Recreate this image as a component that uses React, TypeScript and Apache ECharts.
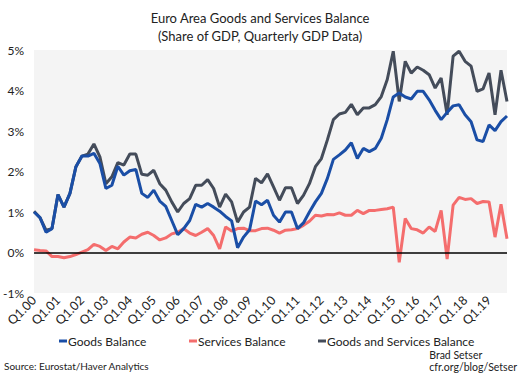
import React, { useEffect, useRef } from "react";
import * as echarts from "echarts";

const years = ["00","01","02","03","04","05","06","07","08","09","10","11","12","13","14","15","16","17","18","19"];
const quarters = ["Q1","Q2","Q3","Q4"];
const categories: string[] = [];
years.forEach((y) => quarters.forEach((q) => categories.push(`${q}.${y}`)));

const goodsBalance = [
  1.0, 0.86, 0.5, 0.59, 1.43, 1.12, 1.46, 2.12, 2.38, 2.38, 2.45, 2.2, 1.58, 1.66, 2.13, 1.91,
  2.02, 2.05, 1.46, 1.36, 1.54, 1.27, 1.14, 0.79, 0.44, 0.59, 0.79, 1.19, 1.12, 1.21, 1.12, 1.02,
  0.89, 0.78, 0.12, 0.38, 0.56, 1.27, 1.18, 1.29, 0.92, 0.75, 1.0, 1.0, 0.59, 0.73, 1.0, 1.25,
  1.46, 1.83, 2.3, 2.41, 2.53, 2.71, 2.32, 2.57, 2.49, 2.57, 2.82, 3.28, 3.84, 3.94, 3.84, 3.79,
  3.98, 3.98, 3.77, 3.51, 3.28, 3.46, 3.62, 3.65, 3.4, 3.23, 2.78, 2.74, 3.15, 3.01, 3.23, 3.37,
];
const servicesBalance = [
  0.07, 0.05, 0.04, -0.1, -0.1, -0.13, -0.1, -0.05, 0.01, 0.07, 0.2, 0.15, 0.05, 0.15, 0.09, 0.26,
  0.38, 0.36, 0.45, 0.5, 0.42, 0.31, 0.36, 0.46, 0.5, 0.59, 0.48, 0.42, 0.5, 0.59, 0.42, 0.09,
  0.63, 0.53, 0.59, 0.6, 0.54, 0.54, 0.59, 0.6, 0.55, 0.48, 0.55, 0.56, 0.59, 0.67, 0.77, 0.92,
  0.9, 0.94, 0.93, 0.98, 0.92, 0.92, 1.04, 0.96, 1.04, 1.04, 1.06, 1.08, 1.12, -0.24, 0.84, 0.59,
  0.56, 0.48, 0.63, 0.52, 1.04, -0.16, 1.17, 1.36, 1.31, 1.33, 1.21, 1.26, 1.25, 0.38, 1.19, 0.34,
];
const goodsAndServicesBalance = [
  1.02, 0.86, 0.55, 0.59, 1.43, 1.12, 1.46, 2.12, 2.38, 2.43, 2.68, 2.36, 1.7, 1.87, 2.22, 2.16,
  2.43, 2.43, 1.93, 1.91, 2.03, 1.7, 1.54, 1.25, 1.0, 1.21, 1.33, 1.66, 1.66, 1.8, 1.58, 1.12,
  1.44, 1.25, 0.75, 1.0, 1.12, 1.83, 1.72, 1.94, 1.62, 1.29, 1.6, 1.6, 1.21, 1.41, 1.7, 2.12,
  2.32, 2.78, 3.28, 3.42, 3.46, 3.66, 3.4, 3.57, 3.57, 3.65, 3.85, 4.27, 4.97, 3.73, 4.72, 4.43,
  4.58, 4.5, 4.39, 4.06, 4.31, 3.4, 4.85, 4.97, 4.72, 4.6, 3.98, 4.04, 4.43, 3.4, 4.5, 3.73,
];
const yTicks = [-1, 0, 1, 2, 3, 4, 5];
const seriesNames = ["Goods Balance", "Services Balance", "Goods and Services Balance"];

const FONT = "Lato, 'Noto Sans', sans-serif";

export default function App() {
  const ref = useRef<HTMLDivElement>(null);
  useEffect(() => {
    if (!ref.current) return;
    const chart = echarts.init(ref.current, undefined, { renderer: "svg" });
    const legendLefts = [59, 189, 318];
    chart.setOption({
      animation: false,
      textStyle: { fontFamily: FONT },
      title: {
        text: "Euro Area Goods and Services Balance\n(Share of GDP, Quarterly GDP Data)",
        left: "center",
        top: 4,
        textStyle: { fontFamily: FONT, fontSize: 13, fontWeight: "normal", color: "#222", lineHeight: 18 },
      },
      grid: {
        left: 32, right: 13, top: 50, bottom: 82,
        show: true, backgroundColor: "#f4f4f4", borderWidth: 0,
      },
      legend: seriesNames.map((name, i) => ({
        top: 335,
        left: legendLefts[i],
        padding: 0,
        itemWidth: 8,
        itemHeight: 3,
        icon: "rect",
        textStyle: { fontFamily: FONT, fontSize: 12, color: "#222", padding: [0, 0, 0, -4] },
        data: [name],
      })),
      xAxis: {
        type: "category",
        data: categories,
        boundaryGap: false,
        axisLine: { show: false },
        axisTick: { show: false },
        splitLine: { show: false },
        axisLabel: {
          interval: (idx: number) => idx % 4 === 0,
          rotate: 45,
          margin: 5,
          fontSize: 12.5,
          color: "#222",
          fontFamily: FONT,
        },
      },
      yAxis: {
        type: "value",
        min: yTicks[0],
        max: yTicks[yTicks.length - 1],
        interval: 1,
        axisLine: { show: false },
        axisTick: { show: false },
        splitLine: { show: false },
        axisLabel: {
          formatter: (v: number) => `${v}%`,
          margin: 10,
          fontSize: 12,
          color: "#222",
          fontFamily: FONT,
        },
      },
      graphic: [
        {
          type: "text",
          left: 4,
          top: 361,
          style: { text: "Source: Eurostat/Haver Analytics", fontSize: 10, fill: "#222", fontFamily: FONT },
        },
        {
          type: "text",
          right: 3,
          top: 349,
          style: { text: "Brad Setser\ncfr.org/blog/Setser", fontSize: 10.5, fill: "#222", align: "right", lineHeight: 12, fontFamily: FONT },
        },
      ],
      series: [
        {
          name: seriesNames[0],
          type: "line",
          data: goodsBalance,
          symbol: "none",
          lineStyle: { color: "#1a4ea6", width: 3 },
          itemStyle: { color: "#1a4ea6" },
          z: 3,
          markLine: {
            silent: true,
            symbol: "none",
            label: { show: false },
            lineStyle: { color: "#000", width: 1.5, type: "solid" },
            data: [{ yAxis: 0 }],
          },
        },
        {
          name: seriesNames[1],
          type: "line",
          data: servicesBalance,
          symbol: "none",
          lineStyle: { color: "#f46d6d", width: 3 },
          itemStyle: { color: "#f46d6d" },
          z: 2,
        },
        {
          name: seriesNames[2],
          type: "line",
          data: goodsAndServicesBalance,
          symbol: "none",
          lineStyle: { color: "#444c5a", width: 3 },
          itemStyle: { color: "#444c5a" },
          z: 1,
        },
      ],
    });
    return () => chart.dispose();
  }, []);
  return <div ref={ref} style={{ width: 520, height: 375, position: "absolute", left: 0, top: 0 }} />;
}
